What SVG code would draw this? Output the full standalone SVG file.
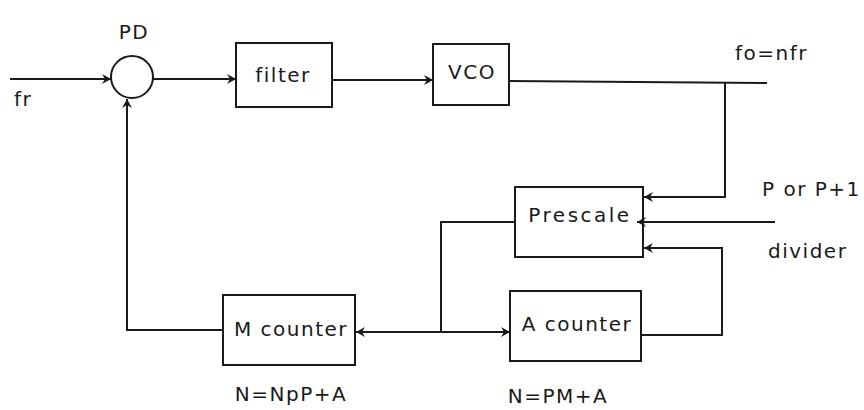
<svg xmlns="http://www.w3.org/2000/svg" width="864" height="410" viewBox="0 0 864 410">
<defs>
<style>
.b{fill:none;stroke:#1a1a1a;stroke-width:2}
.l{fill:none;stroke:#1a1a1a;stroke-width:2}
text{font-family:"DejaVu Sans",sans-serif;font-size:20px;fill:#1a1a1a;letter-spacing:1.5px}
.c{text-anchor:middle}
</style>
<marker id="a" markerWidth="10" markerHeight="10" refX="9" refY="5" orient="auto" markerUnits="userSpaceOnUse">
<path d="M0,0 L9,5 L0,10 L3,5 Z" fill="#1a1a1a"/>
</marker>
</defs>
<rect width="864" height="410" fill="#fff"/>
<g id="PD">
<circle cx="132" cy="77" r="21" class="b"/>
<text x="134" y="39" class="c">PD</text>
</g>
<g id="filter">
<rect x="236" y="43" width="96" height="64" class="b"/>
<text x="283" y="82" class="c">filter</text>
</g>
<g id="VCO">
<rect x="433" y="44" width="76" height="61" class="b"/>
<text x="472" y="79" class="c">VCO</text>
</g>
<g id="Prescale">
<rect x="515" y="187" width="128" height="70" class="b"/>
<text x="580" y="222" class="c" style="letter-spacing:2.5px">Prescale</text>
</g>
<g id="Mcounter">
<rect x="223" y="295" width="132" height="70" class="b"/>
<text x="291" y="336" class="c">M counter</text>
</g>
<g id="Acounter">
<rect x="510" y="291" width="131" height="70" class="b"/>
<text x="577" y="331" class="c">A counter</text>
</g>
<g id="labels">
<text x="14" y="106">fr</text>
<text x="735" y="60">fo=nfr</text>
<text x="762" y="196">P or P+1</text>
<text x="768" y="258">divider</text>
<text x="291" y="401" class="c">N=NpP+A</text>
<text x="558" y="403" class="c">N=PM+A</text>
</g>
<g id="connectors">
<path d="M10,79 H111" class="l" marker-end="url(#a)"/>
<path d="M153,79 H236" class="l" marker-end="url(#a)"/>
<path d="M332,80 H433" class="l" marker-end="url(#a)"/>
<path d="M509,81 L767,83" class="l"/>
<path d="M725,83 V197 H644" class="l" marker-end="url(#a)"/>
<path d="M775,222 H637" class="l" marker-end="url(#a)"/>
<path d="M641,335 H722 V248 H644" class="l" marker-end="url(#a)"/>
<path d="M515,222 H441 V332" class="l"/>
<path d="M441,332 H510" class="l" marker-end="url(#a)"/>
<path d="M441,332 H356" class="l" marker-end="url(#a)"/>
<path d="M223,330 H127 V99" class="l" marker-end="url(#a)"/>
</g>
</svg>
